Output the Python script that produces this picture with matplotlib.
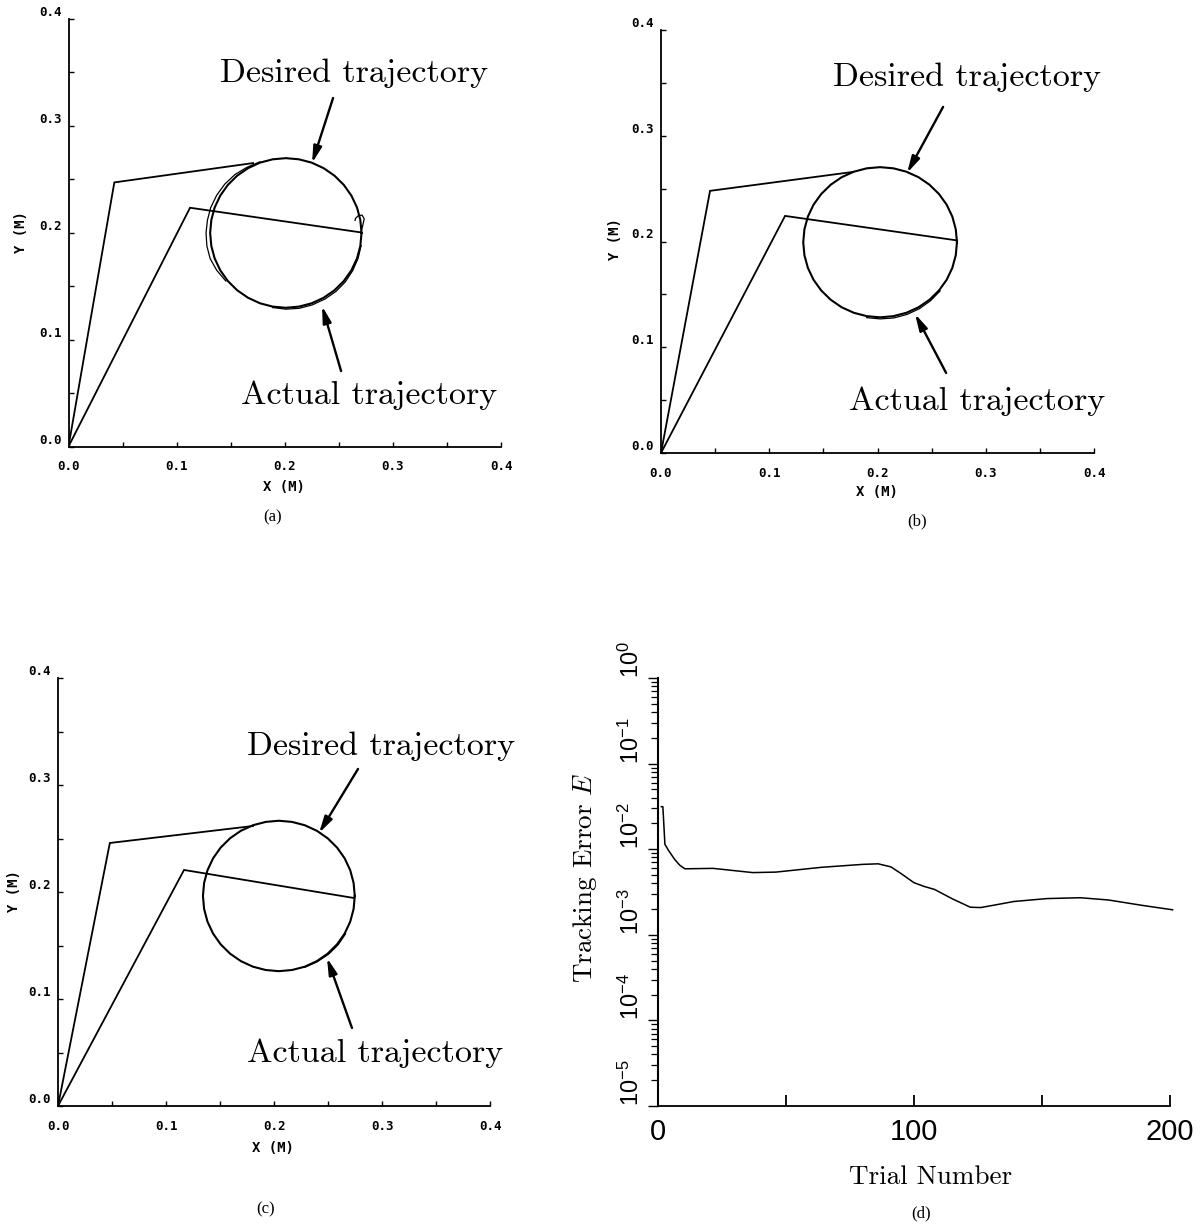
import matplotlib
matplotlib.use("Agg")
import matplotlib.pyplot as plt

W = 1203
H = 1224

plt.rcParams['mathtext.fontset'] = 'cm'

#Robot arm links, one list per panel
ARM1_A_X = [0.0, 0.0424, 0.1707]
ARM1_A_Y = [0.0, 0.2471, 0.2652]
ARM2_A_X = [0.0, 0.1124, 0.2706]
ARM2_A_Y = [0.0, 0.2234, 0.2003]
ARM1_B_X = [0.0, 0.0453, 0.1775]
ARM1_B_Y = [0.0, 0.2479, 0.2658]
ARM2_B_X = [0.0, 0.1146, 0.2736]
ARM2_B_Y = [0.0, 0.2242, 0.2010]
ARM1_C_X = [0.0, 0.0480, 0.1806]
ARM1_C_Y = [0.0, 0.2458, 0.2617]
ARM2_C_X = [0.0, 0.1167, 0.2740]
ARM2_C_Y = [0.0, 0.2206, 0.1944]

#Desired trajectories
DESIRED_A_X = [.2710, .2699, .2668, .2616, .2546, .2460, .2360, .2249, .2132, .2010, .1888, .1771, .1660, .1560, .1474, .1404, .1352, .1321, .1310,
               .1321, .1352, .1404, .1474, .1560, .1660, .1771, .1888, .2010, .2132, .2249, .2360, .2460, .2546, .2616, .2668, .2699, .2710]
DESIRED_A_Y = [.1998, .2120, .2237, .2348, .2448, .2534, .2604, .2656, .2687, .2698, .2687, .2656, .2604, .2534, .2448, .2348, .2237, .2120, .1998,
               .1876, .1759, .1648, .1548, .1462, .1392, .1340, .1309, .1298, .1309, .1340, .1392, .1462, .1548, .1648, .1759, .1876, .1998]
DESIRED_B_X = [.2734, .2723, .2691, .2639, .2568, .2480, .2379, .2267, .2147, .2024, .1901, .1781, .1669, .1568, .1480, .1409, .1357, .1325, .1314,
               .1325, .1357, .1409, .1480, .1568, .1669, .1781, .1901, .2024, .2147, .2267, .2379, .2480, .2568, .2639, .2691, .2723, .2734]
DESIRED_B_Y = [.1993, .2116, .2236, .2348, .2449, .2537, .2608, .2660, .2692, .2703, .2692, .2660, .2608, .2537, .2449, .2348, .2236, .2116, .1993,
               .1870, .1750, .1638, .1537, .1449, .1378, .1326, .1294, .1283, .1294, .1326, .1378, .1449, .1537, .1638, .1750, .1870, .1993]
DESIRED_C_X = [.2748, .2737, .2706, .2654, .2584, .2497, .2397, .2285, .2167, .2045, .1923, .1805, .1693, .1593, .1506, .1436, .1384, .1353, .1342,
               .1353, .1384, .1436, .1506, .1593, .1693, .1805, .1923, .2045, .2167, .2285, .2397, .2497, .2584, .2654, .2706, .2737, .2748]
DESIRED_C_Y = [.1963, .2085, .2203, .2315, .2415, .2502, .2572, .2624, .2655, .2666, .2655, .2624, .2572, .2502, .2415, .2315, .2203, .2085, .1963,
               .1841, .1723, .1611, .1511, .1424, .1354, .1302, .1271, .1260, .1271, .1302, .1354, .1424, .1511, .1611, .1723, .1841, .1963]

#Actual trajectories, only the parts that leave the desired curve
ACTUAL_A_HOOK_X = [.2706, .2725, .2735, .2715, .2680, .2655, .2650]
ACTUAL_A_HOOK_Y = [.2003, .2085, .2130, .2165, .2160, .2135, .2115]
ACTUAL_A_LEFT_X = [.1771, .1650, .1540, .1445, .1370, .1315, .1285, .1272, .1280, .1310, .1370, .1455]
ACTUAL_A_LEFT_Y = [.2664, .2612, .2545, .2455, .2350, .2235, .2118, .1998, .1875, .1758, .1650, .1548]
ACTUAL_A_LOW_X = [.1888, .2010, .2135, .2255, .2372, .2475, .2560, .2628, .2678, .2706]
ACTUAL_A_LOW_Y = [.1300, .1285, .1293, .1325, .1380, .1452, .1540, .1645, .1760, .1880]
ACTUAL_B_X = [.1901, .2024, .2150, .2272, .2388, .2490, .2578]
ACTUAL_B_Y = [.1280, .1268, .1277, .1310, .1365, .1440, .1532]
ACTUAL_C_X = [.2285, .2400, .2505, .2595, .2662]
ACTUAL_C_Y = [.1296, .1348, .1418, .1508, .1608]

#Tracking error curve
TRIALS = [1.3, 1.9, 2.7, 4, 6.5, 8.5, 10.5, 21.5, 37, 46, 64, 80, 86, 91, 95, 100, 104, 108, 115, 122, 126, 132, 139, 152, 165, 176, 189, 201]
ERROR = [.0314, .0314, .0114, .0098, .0076, .0065, .0059, .00597, .00533, .0054, .00615, .00665, .00675, .00621, .00518, .00406, .00367, .00339,
         .00263, .0021, .00208, .00224, .00245, .00265, .00271, .00255, .00221, .00196]

POS_TICKS_MAJOR = [0.0, 0.1, 0.2, 0.3, 0.4]
POS_TICKS_MINOR = [0.05, 0.15, 0.25, 0.35]
POS_LABELS = ["0.0", "0.1", "0.2", "0.3", "0.4"]
TRIAL_TICKS = [0, 50, 100, 150, 200]
TRIAL_LABELS = ["0", "", "100", "", "200"]
ERROR_TICKS = [1e-5, 1e-4, 1e-3, 1e-2, 1e-1, 1e0]
ERROR_LABELS = [r"$\mathregular{10^{-5}}$", r"$\mathregular{10^{-4}}$", r"$\mathregular{10^{-3}}$",
                r"$\mathregular{10^{-2}}$", r"$\mathregular{10^{-1}}$", r"$\mathregular{10^{0}}$"]

fig = plt.figure(figsize=(W / 100, H / 100), dpi=100)


#Axes from pixel corners of the picture
def make_axes(left, right, top, bottom):
    return fig.add_axes([left / W, 1 - bottom / H, (right - left) / W, (bottom - top) / H])


#Text at picture pixel position
def put_text(px, py, s, **kw):
    fig.text(px / W, 1 - py / H, s, **kw)


def arrow(ax, tail, head):
    ax.annotate("", xy=head, xytext=tail, annotation_clip=False,
                arrowprops=dict(arrowstyle="-|>,head_length=0.7,head_width=0.18", color="black",
                                lw=1.7, mutation_scale=14, shrinkA=0, shrinkB=0))


def trajectory_panel(box, arm1, arm2, desired, actual, arrows):
    ax = make_axes(*box)
    ax.plot(arm1[0], arm1[1], color="black", lw=1.3, solid_joinstyle="miter")
    ax.plot(arm2[0], arm2[1], color="black", lw=1.3, solid_joinstyle="miter")
    ax.plot(desired[0], desired[1], color="black", lw=1.5)
    for part in actual:
        ax.plot(part[0], part[1], color="black", lw=0.9)
    arrow(ax, arrows[0], arrows[1])
    arrow(ax, arrows[2], arrows[3])
    ax.set_xlim(0, 0.4)
    ax.set_ylim(0, 0.4)
    ax.spines["top"].set_visible(False)
    ax.spines["right"].set_visible(False)
    ax.spines["left"].set_linewidth(1.3)
    ax.spines["bottom"].set_linewidth(1.3)
    ax.set_xticks(POS_TICKS_MAJOR)
    ax.set_xticks(POS_TICKS_MINOR, minor=True)
    ax.set_yticks(POS_TICKS_MAJOR)
    ax.set_yticks(POS_TICKS_MINOR, minor=True)
    ax.set_xticklabels(POS_LABELS, family="DejaVu Sans Mono", weight="bold", fontsize=9)
    ax.set_yticklabels(POS_LABELS, family="DejaVu Sans Mono", weight="bold", fontsize=9, va="bottom")
    ax.tick_params(which="both", direction="in", length=3.5, width=1.0)
    ax.tick_params(axis="x", which="major", pad=10)
    ax.tick_params(axis="y", which="major", pad=5)
    return ax


trajectory_panel((68.5, 501, 19, 446.5), (ARM1_A_X, ARM1_A_Y), (ARM2_A_X, ARM2_A_Y), (DESIRED_A_X, DESIRED_A_Y),
                 [(ACTUAL_A_HOOK_X, ACTUAL_A_HOOK_Y), (ACTUAL_A_LEFT_X, ACTUAL_A_LEFT_Y), (ACTUAL_A_LOW_X, ACTUAL_A_LOW_Y)],
                 [(.2447, .3261), (.2253, .2653), (.2521, .0706), (.2345, .1314)])
trajectory_panel((661, 1094, 30, 453), (ARM1_B_X, ARM1_B_Y), (ARM2_B_X, ARM2_B_Y), (DESIRED_B_X, DESIRED_B_Y),
                 [(ACTUAL_B_X, ACTUAL_B_Y)],
                 [(.2606, .3273), (.2274, .2649), (.2634, .0757), (.2347, .1315)])
trajectory_panel((58, 490, 678, 1106), (ARM1_C_X, ARM1_C_Y), (ARM2_C_X, ARM2_C_Y), (DESIRED_C_X, DESIRED_C_Y),
                 [(ACTUAL_C_X, ACTUAL_C_Y)],
                 [(.2778, .3150), (.2417, .2551), (.2722, .0729), (.2491, .1383)])

#Panel d, log error plot
ax = make_axes(658, 1170, 678, 1106)
ax.semilogy(TRIALS, ERROR, color="black", lw=1.1, clip_on=False)
ax.set_xlim(0, 200)
ax.set_ylim(1e-5, 1e0)
ax.spines["top"].set_visible(False)
ax.spines["right"].set_visible(False)
ax.spines["left"].set_linewidth(1.5)
ax.spines["bottom"].set_linewidth(1.3)
ax.set_xticks(TRIAL_TICKS)
ax.set_xticklabels(TRIAL_LABELS, family="Liberation Sans", fontsize=21)
ax.tick_params(axis="x", direction="in", length=8, width=1.3, pad=9)
ax.set_yticks(ERROR_TICKS)
ax.set_yticklabels(ERROR_LABELS, family="Liberation Sans", fontsize=17, rotation=90, va="bottom")
ax.yaxis.set_minor_locator(matplotlib.ticker.LogLocator(base=10, subs=range(2, 10), numticks=20))
ax.yaxis.set_minor_formatter(matplotlib.ticker.NullFormatter())
ax.tick_params(axis="y", which="major", direction="out", length=7, width=1.0, pad=3)
ax.tick_params(axis="y", which="minor", direction="out", length=5, width=0.9)

LABEL_FONT = dict(family="cmr10", fontsize=24.5, color="black", va="baseline", ha="left")
PLOT_FONT = dict(family="DejaVu Sans Mono", weight="bold", fontsize=10, ha="center", va="center")
CAPTION_FONT = dict(family="Liberation Serif", fontsize=12, ha="center", va="center")

put_text(220, 82, "Desired trajectory", **LABEL_FONT)
put_text(241, 404, "Actual trajectory", **LABEL_FONT)
put_text(833, 86, "Desired trajectory", **LABEL_FONT)
put_text(849, 410, "Actual trajectory", **LABEL_FONT)
put_text(247, 755, "Desired trajectory", **LABEL_FONT)
put_text(247, 1062, "Actual trajectory", **LABEL_FONT)

put_text(284, 487, "X (M)", **PLOT_FONT)
put_text(877, 492, "X (M)", **PLOT_FONT)
put_text(273, 1148, "X (M)", **PLOT_FONT)
put_text(21, 232, "Y (M)", rotation=90, **PLOT_FONT)
put_text(615, 239, "Y (M)", rotation=90, **PLOT_FONT)
put_text(14, 891, "Y (M)", rotation=90, **PLOT_FONT)

put_text(273, 517, "(a)", **CAPTION_FONT)
put_text(917, 521, "(b)", **CAPTION_FONT)
put_text(266, 1209, "(c)", **CAPTION_FONT)
put_text(921, 1213, "(d)", **CAPTION_FONT)

put_text(931, 1177, "Trial Number", family="cmr10", fontsize=19.5, ha="center", va="center")
put_text(585, 878, r"Tracking Error $E$", family="cmr10", fontsize=19.5, rotation=90, ha="center", va="center")

fig.savefig("out.png", dpi=100)
